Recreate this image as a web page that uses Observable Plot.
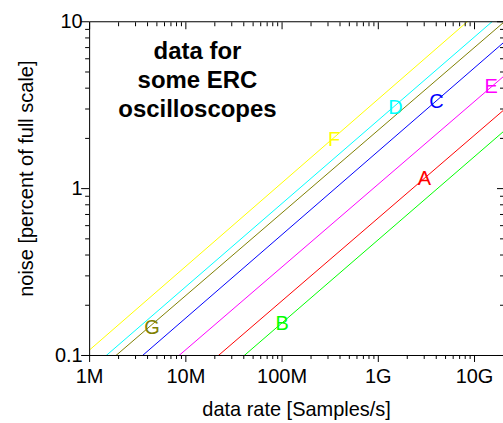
<!DOCTYPE html>
<html><head><meta charset="utf-8">
<script src="https://cdn.jsdelivr.net/npm/d3@7"></script>
<script src="https://cdn.jsdelivr.net/npm/@observablehq/plot@0.6"></script>
<style>
html,body{margin:0;padding:0;overflow:hidden;background:#fff;}
</style></head><body><div id="chart"></div>
<script>
// scopes and their colours
const scopes = ["A","B","C","D","E","F","G"];
const colors = ["#ff0000","#00ff00","#0000ff","#00ffff","#ff00ff","#ffff00","#808000"];
// line endpoints (data rate in S/s, noise in % of full scale)
const startRate  = [2.18e7, 4.05e7, 3.55e6, 1.49e6, 8.5e6, 1e6,   1.88e6];
const startNoise = [0.1,    0.1,    0.1,    0.1,    0.1,   0.108, 0.1];
const endRate    = [2e10,   2e10,   2e10,   1.52e10, 2e10, 8.4e9, 2e10];
const endNoise   = [2.95,   2.2,    7.5,    10,     4.7,   10,    9.9];
// series label positions
const labelRate  = [3.01e9, 1.0e8, 4.02e9, 1.51e9, 1.49e10, 3.48e8, 4.44e6];
const labelNoise = [1.15,   0.156, 3.32,   3.07,   4.06,    1.96,   0.146];
// ticks
const xMajor = [1e6, 1e7, 1e8, 1e9, 1e10];
const xTickLabels = ["1M","10M","100M","1G","10G"];
const yMajor = [0.1, 1, 10];
const yTickLabels = ["0.1","1","10"];
// texts
const noteLines = ["data for","some ERC","oscilloscopes"];
const noteRate = 1.32e7, noteNoise = 4.58;
const xTitle = "data rate [Samples/s]";
const yTitle = "noise [percent of full scale]";

const xDomain = [1e6, 2e10], yDomain = [0.1, 10];
const isPow10 = v => Math.abs(Math.log10(v) - Math.round(Math.log10(v))) < 1e-9;
const xMinor = d3.scaleLog().domain(xDomain).ticks().filter(v => !isPow10(v));
const yMinor = d3.scaleLog().domain(yDomain).ticks().filter(v => !isPow10(v));

const lines = scopes.flatMap((s, i) => [
  {s, rate: startRate[i], noise: startNoise[i]},
  {s, rate: endRate[i], noise: endNoise[i]}
]);
const labels = scopes.map((s, i) => ({s, rate: labelRate[i], noise: labelNoise[i]}));
const note = [{rate: noteRate, noise: noteNoise, text: noteLines.join("\n")}];

const font = "'Liberation Sans', Arial, Helvetica, sans-serif";
const chart = Plot.plot({
  width: 504, height: 423,
  marginLeft: 89.3, marginRight: 0, marginTop: 21.3, marginBottom: 67.3,
  style: {fontFamily: font, fontSize: "20px", background: "white", color: "black"},
  x: {type: "log", domain: xDomain},
  y: {type: "log", domain: yDomain},
  color: {domain: scopes, range: colors},
  marks: [
    Plot.line(lines, {x: "rate", y: "noise", z: "s", stroke: "s", strokeWidth: 1, clip: true}),
    Plot.frame({stroke: "black"}),
    Plot.axisX(xMajor, {anchor: "bottom", tickSize: 7, tickPadding: 6.5, fontSize: 20,
      tickFormat: d => xTickLabels[xMajor.indexOf(d)], label: null}),
    Plot.axisX(xMinor, {anchor: "bottom", tickSize: 4, fill: "none", label: null}),
    Plot.axisX(xMajor, {anchor: "top", tickSize: -7, fill: "none", label: null}),
    Plot.axisX(xMinor, {anchor: "top", tickSize: -4, fill: "none", label: null}),
    Plot.axisY(yMajor, {anchor: "left", tickSize: 8, tickPadding: -1, fontSize: 20,
      tickFormat: d => yTickLabels[yMajor.indexOf(d)], label: null}),
    Plot.axisY(yMinor, {anchor: "left", tickSize: 4, fill: "none", label: null}),
    Plot.axisY(yMajor, {anchor: "right", tickSize: -7, fill: "none", label: null}),
    Plot.axisY(yMinor, {anchor: "right", tickSize: -4, fill: "none", label: null}),
    Plot.text(labels, {x: "rate", y: "noise", text: "s", fill: "s", fontSize: 20,
      textAnchor: "middle", lineAnchor: "middle"}),
    Plot.text(note, {x: "rate", y: "noise", text: "text", fontSize: 24, fontWeight: "bold",
      lineHeight: 1.208, textAnchor: "middle", lineAnchor: "middle", fill: "black"}),
    Plot.text([xTitle], {text: d => d, frameAnchor: "bottom", textAnchor: "middle",
      lineAnchor: "bottom", dy: 61, fontSize: 20, fill: "black"}),
    Plot.text([yTitle], {text: d => d, frameAnchor: "left", rotate: -90, textAnchor: "middle",
      lineAnchor: "bottom", dx: -56.5, dy: -10, fontSize: 20, fill: "black"})
  ]
});
document.getElementById("chart").appendChild(chart);
</script>
</body></html>
